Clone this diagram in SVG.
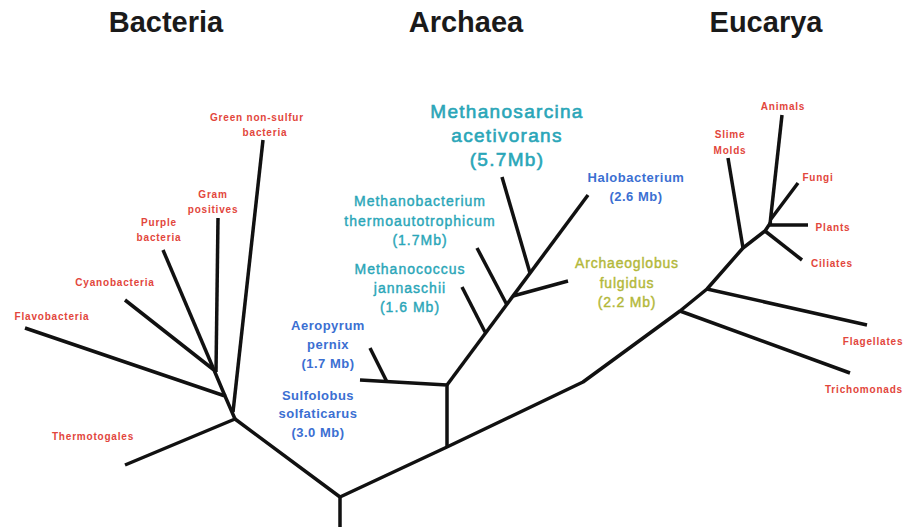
<svg xmlns="http://www.w3.org/2000/svg" width="907" height="527" viewBox="0 0 907 527">
<style>
.title{font-family:"Liberation Sans",Arial,sans-serif;font-weight:bold;font-size:29px;fill:#1a1a1a;text-anchor:middle}
.red{font-family:"Liberation Sans",Arial,sans-serif;font-weight:bold;font-size:10px;letter-spacing:0.8px;fill:#e2463c;text-anchor:middle}
.teal{font-family:"Liberation Sans",Arial,sans-serif;font-size:14px;letter-spacing:1px;fill:#2aa6b8;stroke:#2aa6b8;stroke-width:0.4;text-anchor:middle}
.tealbig{font-family:"Liberation Sans",Arial,sans-serif;font-size:19px;letter-spacing:1.3px;fill:#2aa6b8;stroke:#2aa6b8;stroke-width:0.6;text-anchor:middle}
.blue{font-family:"Liberation Sans",Arial,sans-serif;font-weight:bold;font-size:13px;letter-spacing:0.5px;fill:#3b6fd2;text-anchor:middle}
.olive{font-family:"Liberation Sans",Arial,sans-serif;font-size:14px;letter-spacing:0.8px;fill:#b3b83a;stroke:#b3b83a;stroke-width:0.4;text-anchor:middle}
.br{stroke:#111;stroke-width:3.5;fill:none;stroke-linecap:butt;stroke-linejoin:round}
</style>
<rect width="907" height="527" fill="#ffffff"/>
<g id="titles">
<text class="title" x="166" y="32">Bacteria</text>
<text class="title" x="466" y="32">Archaea</text>
<text class="title" x="766" y="32">Eucarya</text>
</g>
<g id="connectors" class="br">
<path d="M340,527 L340,497 L235,419 L125,465"/>
<path d="M235,419 L225,396 L25,328"/>
<path d="M233,412 L263,140"/>
<path d="M225,396 L214,370 L125,300"/>
<path d="M214,370 L163,250"/>
<path d="M216,372 L218,218"/>
<path d="M340,497 L447,447 L583,382 L680,311 L707,289 L743,248 L765,231 L771,222"/>
<path d="M447,447 L447,385 L360,380"/>
<path d="M370,348 L387,382"/>
<path d="M447,385 L588,195"/>
<path d="M462,287 L485,332"/>
<path d="M477,248 L507,305"/>
<path d="M513,296 L568,281"/>
<path d="M502,177 L530,273"/>
<path d="M680,311 L850,373"/>
<path d="M707,289 L867,325"/>
<path d="M743,248 L728,158"/>
<path d="M765,231 L802,260"/>
<path d="M769,225 L808,225"/>
<path d="M770,224 L782,115"/>
<path d="M771,219 L798,183"/>
</g>
<g id="green-non-sulfur"><text class="red" x="257" y="121">Green non-sulfur</text><text class="red" x="265" y="136">bacteria</text></g>
<g id="gram-positives"><text class="red" x="213" y="198">Gram</text><text class="red" x="213" y="213">positives</text></g>
<g id="purple-bacteria"><text class="red" x="159" y="226">Purple</text><text class="red" x="159" y="241">bacteria</text></g>
<g id="cyanobacteria"><text class="red" x="115" y="286">Cyanobacteria</text></g>
<g id="flavobacteria"><text class="red" x="52" y="320">Flavobacteria</text></g>
<g id="thermotogales"><text class="red" x="93" y="440">Thermotogales</text></g>
<g id="methanosarcina"><text class="tealbig" x="507" y="118">Methanosarcina</text><text class="tealbig" x="507" y="142">acetivorans</text><text class="tealbig" x="507" y="166">(5.7Mb)</text></g>
<g id="methanobacterium"><text class="teal" x="420" y="206">Methanobacterium</text><text class="teal" x="420" y="226">thermoautotrophicum</text><text class="teal" x="420" y="245">(1.7Mb)</text></g>
<g id="methanococcus"><text class="teal" x="410" y="274">Methanococcus</text><text class="teal" x="410" y="293">jannaschii</text><text class="teal" x="410" y="312">(1.6 Mb)</text></g>
<g id="aeropyrum"><text class="blue" x="328" y="330">Aeropyrum</text><text class="blue" x="328" y="349">pernix</text><text class="blue" x="328" y="368">(1.7 Mb)</text></g>
<g id="sulfolobus"><text class="blue" x="318" y="400">Sulfolobus</text><text class="blue" x="318" y="418">solfaticarus</text><text class="blue" x="318" y="437">(3.0 Mb)</text></g>
<g id="halobacterium"><text class="blue" x="636" y="182">Halobacterium</text><text class="blue" x="636" y="201">(2.6 Mb)</text></g>
<g id="archaeoglobus"><text class="olive" x="627" y="268">Archaeoglobus</text><text class="olive" x="627" y="288">fulgidus</text><text class="olive" x="627" y="307">(2.2 Mb)</text></g>
<g id="animals"><text class="red" x="783" y="110">Animals</text></g>
<g id="slime-molds"><text class="red" x="730" y="138">Slime</text><text class="red" x="730" y="154">Molds</text></g>
<g id="fungi"><text class="red" x="818" y="181">Fungi</text></g>
<g id="plants"><text class="red" x="833" y="231">Plants</text></g>
<g id="ciliates"><text class="red" x="832" y="267">Ciliates</text></g>
<g id="flagellates"><text class="red" x="873" y="345">Flagellates</text></g>
<g id="trichomonads"><text class="red" x="864" y="393">Trichomonads</text></g>
</svg>
